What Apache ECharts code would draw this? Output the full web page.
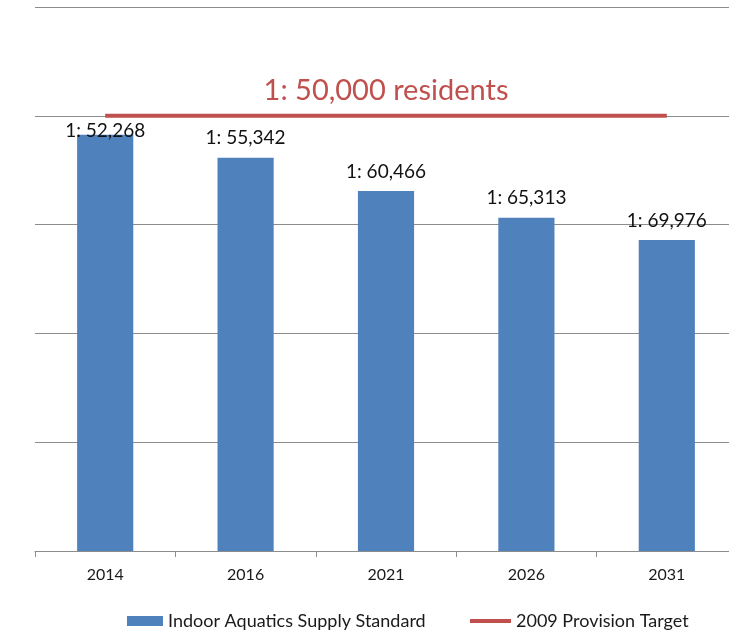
<!DOCTYPE html>
<html><head><meta charset="utf-8">
<script src="https://cdn.jsdelivr.net/npm/echarts@6/dist/echarts.min.js"></script>
<style>html,body{margin:0;padding:0;background:#fff;overflow:hidden}#c{width:737px;height:631px}</style>
</head><body><div id="c"></div>
<script>
const categories = ['2014', '2016', '2021', '2026', '2031'];
const supplyValues = [1.913, 1.807, 1.654, 1.531, 1.429];
const supplyLabels = ['1: 52,268', '1: 55,342', '1: 60,466', '1: 65,313', '1: 69,976'];
const targetValues = [2.0, 2.0, 2.0, 2.0, 2.0];
const targetLabel = '1: 50,000 residents';
const seriesNames = ['Indoor Aquatics Supply Standard', '2009 Provision Target'];

const FONT = 'Lato';
const BLUE = '#4F81BD', RED = '#C0504D';
const chart = echarts.init(document.getElementById('c'));
chart.setOption({
  animation: false,
  textStyle: { fontFamily: FONT },
  grid: { left: 35, right: 0, top: 7, bottom: 80, containLabel: false },
  legend: [
    {
      left: 127, top: 612, padding: 0,
      itemWidth: 36, itemHeight: 10,
      textStyle: { fontFamily: FONT, fontSize: 18, color: '#1a1a1a' },
      data: [{ name: seriesNames[0], icon: 'rect', itemStyle: { color: BLUE } }]
    },
    {
      left: 470, top: 612, padding: 0,
      itemWidth: 41, itemHeight: 4,
      textStyle: { fontFamily: FONT, fontSize: 18, color: '#1a1a1a' },
      data: [{ name: seriesNames[1], icon: 'rect', itemStyle: { color: RED } }]
    }
  ],
  xAxis: {
    type: 'category', data: categories,
    axisLine: { lineStyle: { color: '#8c8c8c', width: 1 } },
    axisTick: { show: true, length: 6, lineStyle: { color: '#8c8c8c' } },
    axisLabel: { fontFamily: FONT, fontSize: 16, color: '#1a1a1a', margin: 16 }
  },
  yAxis: {
    type: 'value', min: 0, max: 2.5, interval: 0.5,
    axisLine: { show: false }, axisTick: { show: false }, axisLabel: { show: false },
    splitLine: { lineStyle: { color: '#8c8c8c', width: 1 } }
  },
  series: [
    {
      name: seriesNames[0], type: 'bar', barWidth: '40%',
      itemStyle: { color: BLUE },
      data: supplyValues.map((v, i) => ({
        value: v,
        label: i === 0 ? { offset: [0, 16] } : {}
      })),
      label: {
        show: true, position: 'top', distance: 10,
        fontFamily: FONT, fontSize: 19, color: '#111',
        formatter: p => supplyLabels[p.dataIndex]
      },
      z: 2
    },
    {
      name: seriesNames[1], type: 'line', symbol: 'circle', symbolSize: 0.01,
      showSymbol: true,
      lineStyle: { color: RED, width: 4 },
      itemStyle: { color: RED },
      data: targetValues.map((v, i) => ({
        value: v,
        label: i === 2 ? { show: true } : { show: false }
      })),
      label: {
        position: 'top', distance: 11,
        fontFamily: FONT, fontSize: 29, color: RED,
        formatter: () => targetLabel
      },
      z: 3
    }
  ]
});
</script></body></html>
